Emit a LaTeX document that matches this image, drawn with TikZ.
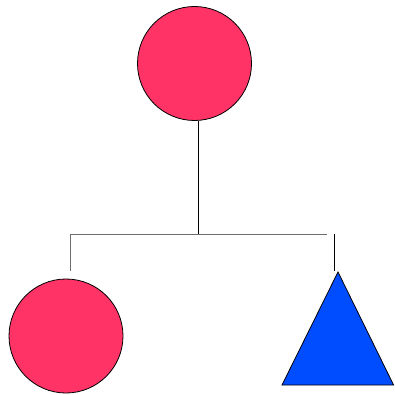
\documentclass[tikz,border=0pt]{standalone}
\definecolor{pinkred}{RGB}{255,51,102}
\definecolor{vivblue}{RGB}{0,76,255}
\definecolor{lgray}{RGB}{110,110,110}
\begin{document}
\begin{tikzpicture}[x=1pt,y=-1pt,
  ball/.style={circle,draw=black,fill=pinkred,line width=0.8pt,minimum size=114pt,inner sep=0pt},
  tri/.style={draw=black,fill=vivblue,line width=0.8pt,line join=miter},
  conn/.style={black,line width=1pt},
  connG/.style={lgray,line width=1pt}]
\useasboundingbox (0,0) rectangle (394,395);
\node[ball] (top) at (194.5,63.5) {};
\node[ball] (left) at (66,336) {};
\coordinate (tA) at (338,272);
\coordinate (tL) at (282,385);
\coordinate (tR) at (393.6,385);
\draw[tri] (tA) -- (tR) -- (tL) -- cycle;
\coordinate (j) at (198,234);
\coordinate (hl) at (70,234);
\coordinate (hr) at (327,234);
\coordinate (lb) at (70,271);
\coordinate (rt) at (334,234);
\coordinate (rb) at (334,271);
\draw[connG] (hr) -- (hl) -- (lb);
\draw[conn] (198,0 |- top.south) -- (j);
\draw[conn] (rt) -- (rb);
\end{tikzpicture}
\end{document}
